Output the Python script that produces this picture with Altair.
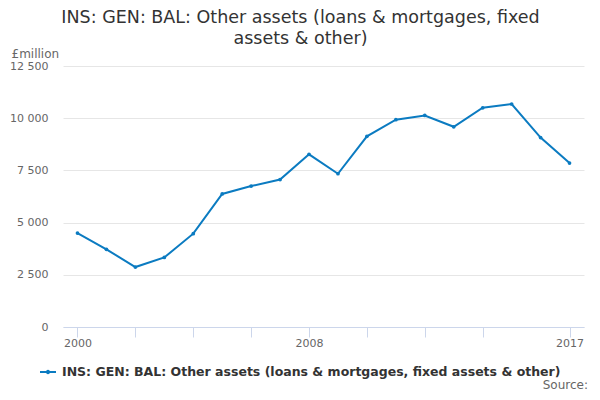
import altair as alt
import pandas as pd

years = list(range(2000, 2018))
values = [4500, 3720, 2870, 3330, 4470, 6370, 6750, 7060, 8270, 7340,
          9130, 9930, 10130, 9590, 10500, 10680, 9070, 7850]
series_name = "INS: GEN: BAL: Other assets (loans & mortgages, fixed assets & other)"
title_lines = ["INS: GEN: BAL: Other assets (loans & mortgages, fixed", "assets & other)"]
x_tick_values = [2000, 2002, 2004, 2006, 2008, 2010, 2012, 2014, 2017]
x_label_values = [2000, 2008, 2017]
y_tick_values = [0, 2500, 5000, 7500, 10000, 12500]

df = pd.DataFrame({"year": years, "value": values, "series": series_name})

FONT = "DejaVu Sans"
BLUE = "#0b7bc1"

x_enc = alt.X(
    "year:Q",
    scale=alt.Scale(domain=[1999.5, 2017.5], nice=False, zero=False),
    axis=alt.Axis(
        values=x_tick_values,
        labelExpr="indexof([2000, 2008, 2017], datum.value) >= 0 ? datum.label : ''",
        format="d",
        title=None,
        grid=False,
        domainColor="#ccd6eb",
        tickColor="#ccd6eb",
        tickSize=10,
        labelFont=FONT,
        labelFontSize=11,
        labelColor="#666666",
        labelPadding=0,
        labelFlush=False,
    ),
)
y_enc = alt.Y(
    "value:Q",
    scale=alt.Scale(domain=[0, 12500], nice=False),
    axis=alt.Axis(
        values=y_tick_values,
        format=",d",
        labelExpr="replace(datum.label, ',', ' ')",
        title="£million",
        titleAngle=0,
        titleAlign="left",
        titleBaseline="alphabetic",
        titleX=-52,
        titleY=-9,
        titleFont=FONT,
        titleFontSize=12,
        titleFontWeight="normal",
        titleColor="#666666",
        grid=True,
        gridColor="#e6e6e6",
        domain=False,
        ticks=False,
        labelPadding=15,
        labelFont=FONT,
        labelFontSize=11,
        labelColor="#666666",
    ),
)

line = alt.Chart(df).mark_line(strokeWidth=2).encode(
    x=x_enc,
    y=y_enc,
    color=alt.Color(
        "series:N",
        scale=alt.Scale(range=[BLUE]),
        legend=alt.Legend(
            title=None,
            orient="none",
            legendX=-24,
            legendY=297,
            padding=0,
            symbolType="M-1,0H1M-0.15,0A0.15,0.15,0,1,1,0.15,0A0.15,0.15,0,1,1,-0.15,0",
            symbolSize=256,
            symbolStrokeWidth=2,
            symbolStrokeColor=BLUE,
            labelFont=FONT,
            labelFontSize=12.5,
            labelFontWeight="bold",
            labelColor="#333333",
            labelLimit=700,
            labelOffset=5,
        ),
    ),
)

points = alt.Chart(df).mark_point(filled=True, size=14, opacity=1, color=BLUE).encode(
    x="year:Q", y="value:Q"
)

source = alt.Chart(pd.DataFrame({"t": ["Source:"]})).mark_text(
    align="right", baseline="alphabetic", font=FONT, fontSize=12, color="#666666"
).encode(text="t:N", x=alt.value(525), y=alt.value(323))

chart = alt.layer(line, points, source).properties(
    width=521,
    height=261,
    autosize=alt.AutoSizeParams(type="none"),
    padding={"left": 55, "top": 58, "right": 8, "bottom": 65},
    title=alt.TitleParams(
        text=title_lines,
        font=FONT,
        fontSize=17.5,
        fontWeight="normal",
        color="#333333",
        anchor="middle",
        dx=-23,
        offset=0,
        lineHeight=21,
    ),
).configure_view(stroke=None)

chart.save("out.html", embed_options={"renderer": "svg", "actions": False})
